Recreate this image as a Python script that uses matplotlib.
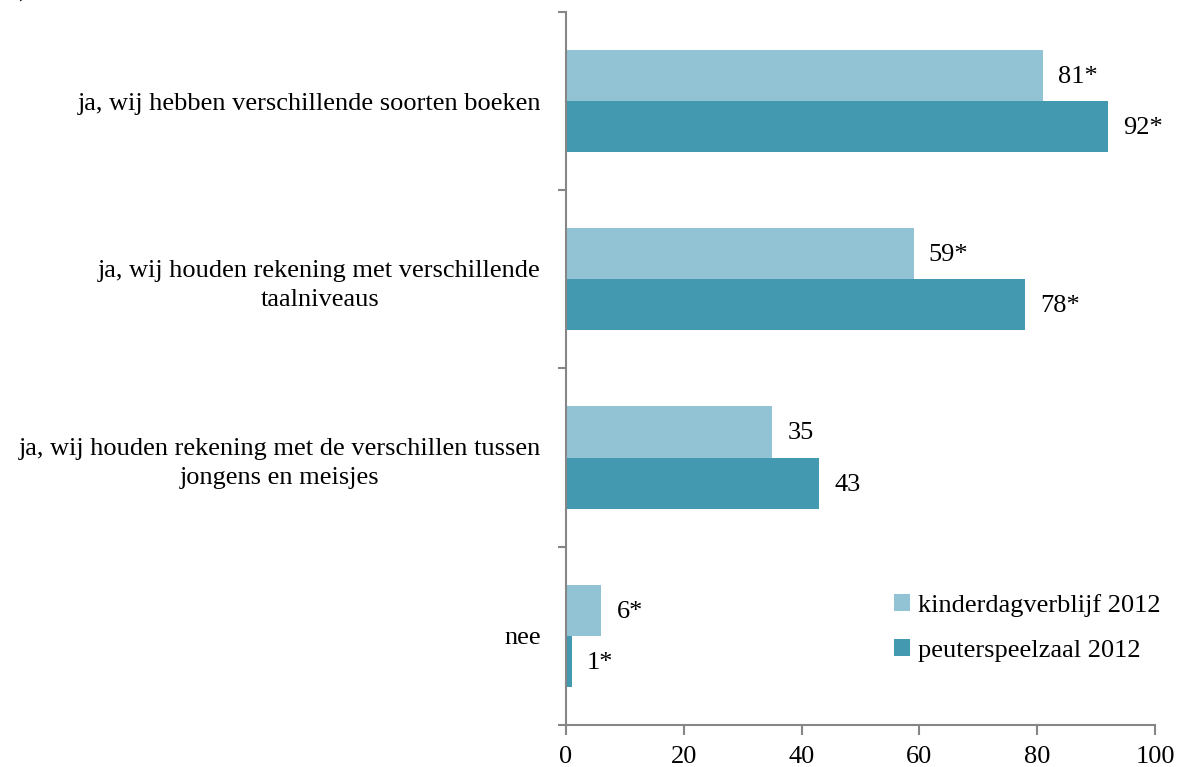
import numpy as np
import matplotlib.pyplot as plt

categories = ['ja, wij hebben verschillende soorten boeken',
              'ja, wij houden rekening met verschillende\ntaalniveaus',
              'ja, wij houden rekening met de verschillen tussen\njongens en meisjes',
              'nee']
kdv = [81, 59, 35, 6]
psz = [92, 78, 43, 1]
kdv_labels = ['81*', '59*', '35', '6*']
psz_labels = ['92*', '78*', '43', '1*']

light = '#92C3D4'
dark = '#4299B0'
grey = '#868686'

plt.rcParams['font.family'] = ['Liberation Serif', 'DejaVu Serif']

fig = plt.figure(figsize=(11.86, 7.67), dpi=100)
ax = fig.add_axes([0.4772, 0.0548, 0.4967, 0.9296])

y = np.arange(len(categories))
h = 0.287
b1 = ax.barh(y - h / 2, kdv, height=h, color=light, label='kinderdagverblijf 2012')
b2 = ax.barh(y + h / 2, psz, height=h, color=dark, label='peuterspeelzaal 2012')

for bars, labs in ((b1, kdv_labels), (b2, psz_labels)):
    for bar, lab in zip(bars, labs):
        ax.annotate(lab, (bar.get_width(), bar.get_y() + bar.get_height() / 2),
                    xytext=(11, -1), textcoords='offset points',
                    va='center', ha='left', fontsize=19)

ax.set_xlim(0, 100)
ax.set_ylim(len(categories) - 0.5, -0.5)
ax.set_xticks(np.arange(0, 101, 20))
ax.tick_params(axis='x', labelsize=19, color=grey, length=7, width=1.5, pad=8)

ax.set_yticks(y)
ax.set_yticklabels(categories, fontsize=19, multialignment='center', linespacing=1.4)
ax.tick_params(axis='y', which='major', length=0, pad=18)
ax.set_yticks(np.arange(-0.5, len(categories)), minor=True)
ax.tick_params(axis='y', which='minor', color=grey, length=6, width=1.5)

for s in ['top', 'right']:
    ax.spines[s].set_visible(False)
for s in ['left', 'bottom']:
    ax.spines[s].set_color(grey)
    ax.spines[s].set_linewidth(1.5)

ax.legend(loc='lower right', bbox_to_anchor=(1.05, 0.055), frameon=False,
          fontsize=19, handlelength=0.6, handleheight=0.6, handletextpad=0.3,
          labelspacing=0.85)

fig.text(0.005, 1.012, '5)', fontsize=19, ha='left', va='center')

fig.savefig('out.png', dpi=100)
